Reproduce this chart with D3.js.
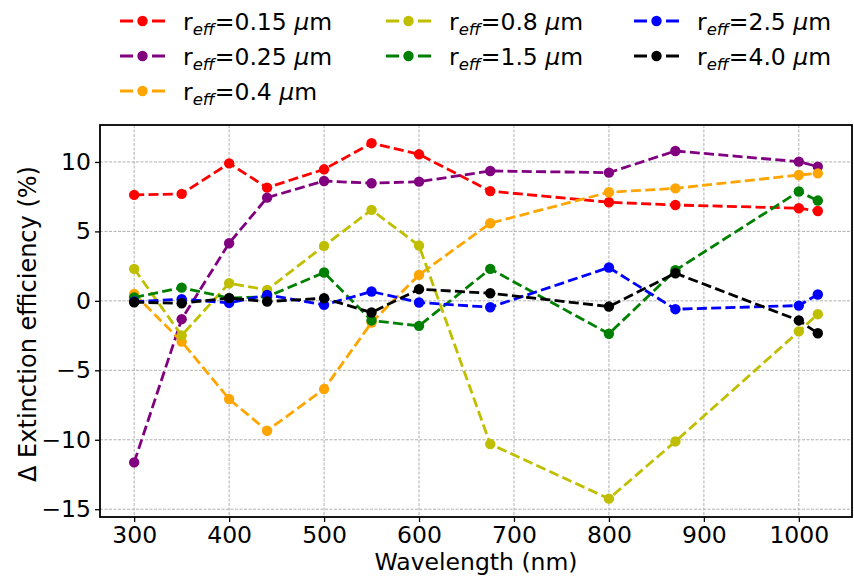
<!DOCTYPE html>
<html><head><meta charset="utf-8">
<script src="https://cdn.jsdelivr.net/npm/d3@7"></script>
<style>body{margin:0;background:#fff}svg{display:block}text{font-family:"DejaVu Sans",sans-serif}</style>
</head><body><svg id="c" width="854" height="576"></svg>
<script>
const wavelengths = [300, 350, 400, 440, 500, 550, 600, 675, 800, 870, 1000, 1020];
const r015 = [7.63, 7.70, 9.90, 8.15, 9.47, 11.35, 10.55, 7.90, 7.10, 6.90, 6.67, 6.47];
const r025 = [-11.63, -1.32, 4.15, 7.43, 8.63, 8.47, 8.58, 9.35, 9.23, 10.79, 10.02, 9.66];
const r04  = [0.50, -2.93, -7.07, -9.35, -6.35, -1.56, 1.87, 5.59, 7.82, 8.10, 9.06, 9.18];
const r08  = [2.30, -2.49, 1.27, 0.79, 3.96, 6.55, 3.98, -10.31, -14.24, -10.12, -2.20, -0.96];
const r15  = [0.24, 0.95, 0.20, 0.30, 2.04, -1.41, -1.80, 2.30, -2.37, 2.20, 7.87, 7.22];
const r25  = [-0.05, 0.12, -0.15, 0.43, -0.29, 0.67, -0.12, -0.46, 2.40, -0.60, -0.34, 0.46];
const r40  = [-0.10, -0.17, 0.20, -0.05, 0.19, -0.84, 0.84, 0.55, -0.41, 1.99, -1.41, -2.33];
const seriesLabels = ["0.15", "0.25", "0.4", "0.8", "1.5", "2.5", "4.0"];
const seriesColors = ["#ff0000", "#800080", "#ffa500", "#bfbf00", "#008000", "#0000ff", "#000000"];
const xTicks = [300, 400, 500, 600, 700, 800, 900, 1000];
const yTicks = [-15, -10, -5, 0, 5, 10];
const seriesValues = [r015, r025, r04, r08, r15, r25, r40];

const svg = d3.select("#c");
const L = 100, R = 852, T = 125, B = 517;
const x = d3.scaleLinear().domain([264, 1056]).range([L, R]);
const y = d3.scaleLinear().domain([-15.56, 12.66]).range([B, T]);

// grid
const g = svg.append("g");
g.selectAll(".gx").data(xTicks).join("line")
  .attr("x1", d => x(d)).attr("x2", d => x(d)).attr("y1", T).attr("y2", B)
  .attr("stroke", "#b0b0b0").attr("stroke-width", 1).attr("stroke-dasharray", "3,1.5");
g.selectAll(".gy").data(yTicks).join("line")
  .attr("y1", d => y(d)).attr("y2", d => y(d)).attr("x1", L).attr("x2", R)
  .attr("stroke", "#b0b0b0").attr("stroke-width", 1).attr("stroke-dasharray", "3,1.5");

// lines
const line = d3.line().x((d, i) => x(wavelengths[i])).y(d => y(d));
seriesValues.forEach((vals, k) => {
  const s = svg.append("g");
  s.append("path").attr("d", line(vals)).attr("fill", "none")
    .attr("stroke", seriesColors[k]).attr("stroke-width", 2.8).attr("stroke-dasharray", "10,4.3");
  s.selectAll("circle").data(vals).join("circle")
    .attr("cx", (d, i) => x(wavelengths[i])).attr("cy", d => y(d)).attr("r", 5.2)
    .attr("fill", seriesColors[k]);
});

// axes
const xa = svg.append("g").attr("transform", `translate(0,${B})`)
  .call(d3.axisBottom(x).tickValues(xTicks).tickSize(5).tickPadding(4).tickFormat(d3.format("d")));
const ya = svg.append("g").attr("transform", `translate(${L},0)`)
  .call(d3.axisLeft(y).tickValues(yTicks).tickSize(5).tickPadding(4));
[xa, ya].forEach(a => {
  a.select(".domain").remove();
  a.selectAll("line").attr("stroke", "#000").attr("stroke-width", 1.3);
  a.selectAll("text").attr("font-size", 23.5).attr("fill", "#000").attr("font-family", "DejaVu Sans");
});
svg.append("rect").attr("x", L).attr("y", T).attr("width", R - L).attr("height", B - T)
  .attr("fill", "none").attr("stroke", "#000").attr("stroke-width", 1.8);

svg.append("text").attr("x", (L + R) / 2).attr("y", 570).attr("text-anchor", "middle")
  .attr("font-size", 23.5).text("Wavelength (nm)");
svg.append("text").attr("transform", `translate(36,${(T + B) / 2 + 3}) rotate(-90)`)
  .attr("text-anchor", "middle").attr("font-size", 24).text("Δ Extinction efficiency (%)");

// legend
const colX = [120, 386, 634];
const rowY = [21, 56, 91];
const pos = [[0,0],[0,1],[0,2],[1,0],[1,1],[2,0],[2,1]];
seriesLabels.forEach((lab, k) => {
  const cx = colX[pos[k][0]], cy = rowY[pos[k][1]];
  const lg = svg.append("g");
  lg.append("line").attr("x1", cx).attr("x2", cx + 45).attr("y1", cy).attr("y2", cy)
    .attr("stroke", seriesColors[k]).attr("stroke-width", 2.8).attr("stroke-dasharray", "13,19,13");
  lg.append("circle").attr("cx", cx + 22.5).attr("cy", cy).attr("r", 5.2).attr("fill", seriesColors[k]);
  const t = lg.append("text").attr("x", cx + 63).attr("y", cy + 8.5).attr("font-size", 23.5);
  t.append("tspan").text("r");
  t.append("tspan").attr("dy", 5).attr("font-size", 16.5).attr("font-style", "italic").text("eff");
  t.append("tspan").attr("dy", -5).text("=" + lab + " ");
  t.append("tspan").attr("font-style", "italic").text("μ");
  t.append("tspan").text("m");
});
</script></body></html>
